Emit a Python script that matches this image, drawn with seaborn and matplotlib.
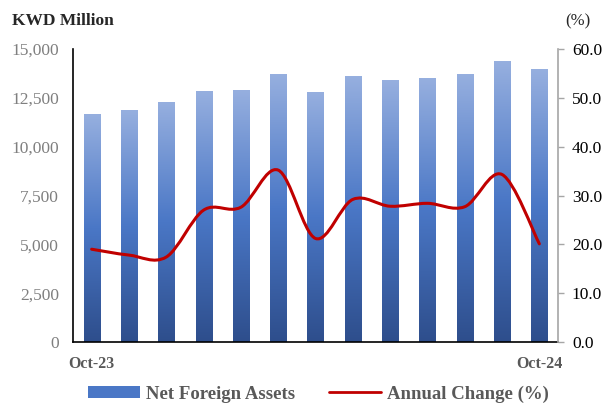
import matplotlib
matplotlib.use("Agg")
import matplotlib.pyplot as plt
import numpy as np
import pandas as pd
import seaborn as sns
from matplotlib.path import Path
from matplotlib.patches import PathPatch, Patch
from matplotlib.lines import Line2D
from matplotlib.colors import LinearSegmentedColormap

months = ["Oct-23", "Nov-23", "Dec-23", "Jan-24", "Feb-24", "Mar-24", "Apr-24",
          "May-24", "Jun-24", "Jul-24", "Aug-24", "Sep-24", "Oct-24"]
nfa = [11630, 11840, 12250, 12810, 12860, 13720, 12760,
       13570, 13370, 13470, 13670, 14340, 13930]
annual_change = [19.0, 17.8, 17.4, 27.0, 27.6, 35.2, 21.2,
                 29.2, 27.8, 28.4, 27.7, 34.3, 20.1]
tick_text = ["Oct-23"] + [""] * 11 + ["Oct-24"]

df = pd.DataFrame({"month": months, "nfa": nfa, "chg": annual_change})

sns.set_style("white")
plt.rcParams["font.family"] = ["Liberation Serif", "DejaVu Serif"]

fig = plt.figure(figsize=(6.08, 4.05), dpi=100)
ax = fig.add_axes([73 / 608, 1 - 342 / 405, 485 / 608, 293 / 405])

sns.barplot(data=df, x="month", y="nfa", ax=ax, width=0.43, color="#4a78c8")

# gradient fill for each bar
cmap = LinearSegmentedColormap.from_list("g", ["#2e4e8c", "#4a77c6", "#96afdf"])
grad = np.linspace(0, 1, 256).reshape(-1, 1)
for p in list(ax.patches):
    x0, y0 = p.get_x(), p.get_y()
    w, h = p.get_width(), p.get_height()
    p.set_facecolor("none")
    p.set_edgecolor("none")
    ax.imshow(grad, extent=[x0, x0 + w, y0, y0 + h], origin="lower",
              cmap=cmap, aspect="auto", zorder=2)

ax.set_xlim(-0.5, 12.5)
ax.set_ylim(0, 15000)
ax.set_yticks(np.arange(0, 15001, 2500))
ax.set_yticklabels([f"{v:,}" for v in range(0, 15001, 2500)],
                   fontsize=12.5, color="#7f7f7f")
ax.set_xticks(range(13))
ax.set_xticklabels(tick_text, fontsize=11.5, fontweight="bold", color="#595959")
ax.tick_params(axis="x", length=0, pad=10)
ax.tick_params(axis="y", length=0, pad=10)
ax.set_xlabel("")
ax.set_ylabel("")
for s in ["left", "bottom"]:
    ax.spines[s].set_color("black")
    ax.spines[s].set_linewidth(1.2)
ax.spines["top"].set_visible(False)
ax.spines["right"].set_visible(False)

ax2 = ax.twinx()
ax2.set_ylim(0, 60)
ax2.set_yticks(np.arange(0, 61, 10))
ax2.set_yticklabels([f"{v:.1f}" for v in range(0, 61, 10)], fontsize=12.5, color="black")
ax2.tick_params(axis="y", length=4, color="#a6a6a6", width=1, pad=6)
for s in ["left", "bottom", "top"]:
    ax2.spines[s].set_visible(False)
ax2.spines["right"].set_color("#a6a6a6")
ax2.spines["right"].set_linewidth(1.2)

# smoothed line drawn as bezier segments through the data points
xs = np.arange(len(annual_change), dtype=float)
ys = np.array(annual_change)
verts = [(xs[0], ys[0])]
codes = [Path.MOVETO]
n = len(xs)
for i in range(n - 1):
    pm = (xs[max(i - 1, 0)], ys[max(i - 1, 0)])
    p0 = (xs[i], ys[i])
    p1 = (xs[i + 1], ys[i + 1])
    p2 = (xs[min(i + 2, n - 1)], ys[min(i + 2, n - 1)])
    c1 = (p0[0] + (p1[0] - pm[0]) / 6, p0[1] + (p1[1] - pm[1]) / 6)
    c2 = (p1[0] - (p2[0] - p0[0]) / 6, p1[1] - (p2[1] - p0[1]) / 6)
    verts += [c1, c2, p1]
    codes += [Path.CURVE4] * 3
ax2.add_patch(PathPatch(Path(verts, codes), facecolor="none",
                        edgecolor="#c00000", linewidth=2.2, zorder=3,
                        capstyle="round", joinstyle="round"))
ax2.set_xlim(-0.5, 12.5)

fig.text(12 / 608, 1 - 21 / 405, "KWD Million", fontsize=12.5, fontweight="bold",
         va="center", ha="left")
fig.text(590 / 608, 1 - 21 / 405, "(%)", fontsize=12, va="center", ha="right")

handles = [Patch(facecolor="#4a77c6", edgecolor="none"),
           Line2D([0], [0], color="#c00000", linewidth=2)]
leg = fig.legend(handles, ["Net Foreign Assets", "Annual Change (%)"],
                 loc="center", bbox_to_anchor=(0.5 + 14 / 608, 1 - 394 / 405), ncol=2,
                 frameon=False, prop={"weight": "bold", "size": 13.5},
                 handlelength=2.8, handleheight=0.55, columnspacing=1.8,
                 handletextpad=0.3)
for t in leg.get_texts():
    t.set_color("#595959")

fig.savefig("out.png", dpi=100, facecolor="white")
